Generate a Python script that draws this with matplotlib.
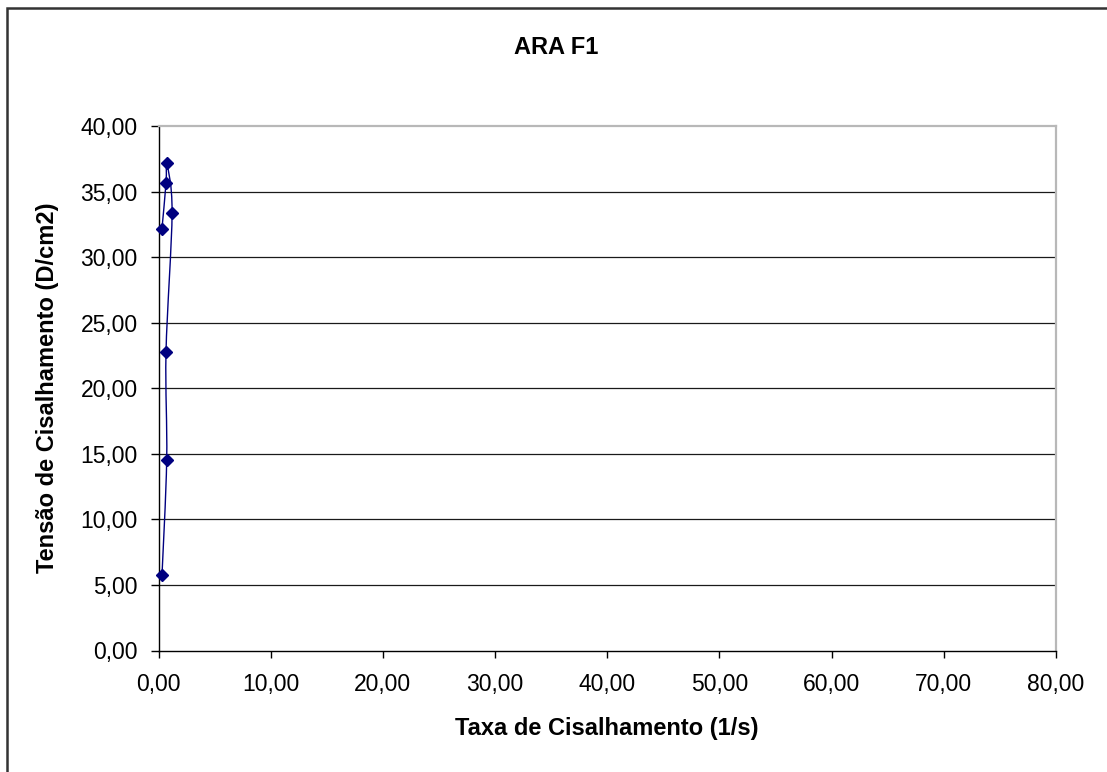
import matplotlib
matplotlib.use("Agg")
import matplotlib.pyplot as plt
from matplotlib.path import Path
from matplotlib.patches import PathPatch, Rectangle
from matplotlib.ticker import FuncFormatter
import numpy as np

plt.rcParams['font.family'] = ['Liberation Sans', 'DejaVu Sans']

# Shear rate (1/s) and shear stress (D/cm2), in measurement order
taxa = [0.31, 0.73, 0.67, 1.21, 0.73, 0.67, 0.31]
tensao = [5.73, 14.52, 22.75, 33.40, 37.18, 35.65, 32.18]

x_ticks = [0, 10, 20, 30, 40, 50, 60, 70, 80]
y_ticks = [0, 5, 10, 15, 20, 25, 30, 35, 40]

titulo = "ARA F1"
rotulo_x = "Taxa de Cisalhamento (1/s)"
rotulo_y = "Tensão de Cisalhamento (D/cm2)"

W, H = 1107, 772
fig = plt.figure(figsize=(W / 100, H / 100), dpi=100)
fig.patch.set_facecolor('white')

# outer chart frame (left and top edges visible)
fig.add_artist(Rectangle((7 / W, -0.05), 1.2, 1 - 8 / H + 0.05, transform=fig.transFigure,
                         fill=False, edgecolor='#333333', linewidth=1.8))

left, right = 158.5 / W, 1056 / W
bottom, top = 1 - 650.5 / H, 1 - 126 / H
ax = fig.add_axes([left, bottom, right - left, top - bottom])

ax.set_xlim(0, 80)
ax.set_ylim(0, 40)
ax.set_xticks(x_ticks)
ax.set_yticks(y_ticks)
fmt = FuncFormatter(lambda v, p: f"{v:.2f}".replace('.', ','))
ax.xaxis.set_major_formatter(fmt)
ax.yaxis.set_major_formatter(fmt)

for v in y_ticks[1:-1]:
    ax.axhline(v, color='#1a1a1a', linewidth=0.9, zorder=1)

for s in ['top', 'right']:
    ax.spines[s].set_color('#b8b8b8')
    ax.spines[s].set_linewidth(1.6)
for s in ['left', 'bottom']:
    ax.spines[s].set_color('#000000')
    ax.spines[s].set_linewidth(1.0)

ax.tick_params(axis='x', direction='out', length=5, width=1, pad=11, labelsize=16.5)
ax.tick_params(axis='y', direction='out', length=6, width=1, pad=9, labelsize=16.5)

# smoothed connecting line (Catmull-Rom style Bezier segments)
pts = np.column_stack([taxa, tensao])
n = len(pts)
verts = [tuple(pts[0])]
codes = [Path.MOVETO]
for i in range(n - 1):
    p0 = pts[i - 1] if i > 0 else pts[i]
    p1 = pts[i]
    p2 = pts[i + 1]
    p3 = pts[i + 2] if i + 2 < n else pts[i + 1]
    c1 = p1 + (p2 - p0) / 6.0
    c2 = p2 - (p3 - p1) / 6.0
    verts += [tuple(c1), tuple(c2), tuple(p2)]
    codes += [Path.CURVE4] * 3
ax.add_patch(PathPatch(Path(verts, codes), facecolor='none', edgecolor='#000080',
                       linewidth=1.0, zorder=3))
ax.plot(taxa, tensao, linestyle='none', marker='D', markersize=6.5,
        color='#000080', zorder=4, clip_on=False)

fig.text(556 / W, 1 - 47 / H, titulo, ha='center', va='center',
         fontsize=17, fontweight='bold')
fig.text(607 / W, 1 - 729 / H, rotulo_x, ha='center', va='center',
         fontsize=17, fontweight='bold')
fig.text(47.5 / W, 1 - 388 / H, rotulo_y, ha='center', va='center',
         rotation=90, fontsize=17, fontweight='bold')

fig.savefig('out.png', dpi=100)
